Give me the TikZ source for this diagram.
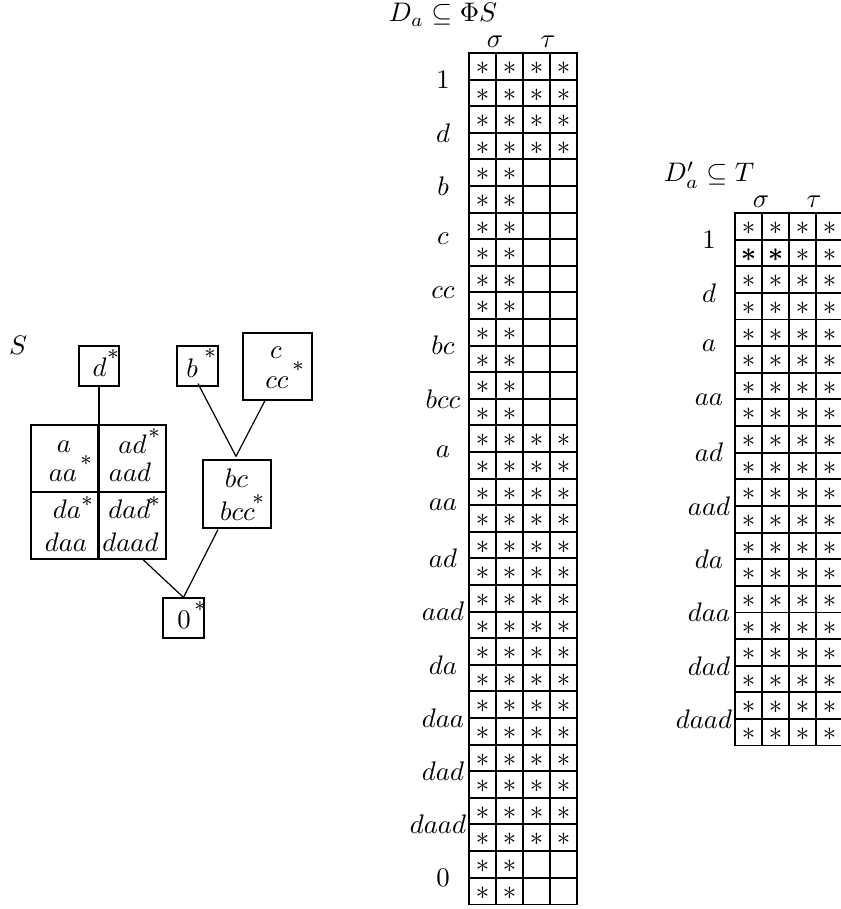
\documentclass[tikz,border=0pt]{standalone}
\usepackage{amsmath}
\usetikzlibrary{calc}
\tikzset{
  lab/.style={inner sep=0pt},
  baselab/.style={inner sep=0pt, anchor=base},
  cellstar/.style={inner sep=0pt},
  smallstar/.style={inner sep=0pt, font=\fontsize{8}{9}\selectfont},
  gridin/.style={line width=0.7pt},
  gridout/.style={line width=0.5pt},
  sbox/.style 2 args={draw, line width=0.45pt, inner sep=0pt, minimum width=#1*0.373pt, minimum height=#2*0.373pt},
  divider/.style={line width=0.8pt},
  conn/.style={line width=0.45pt},
}
\begin{document}
\begin{tikzpicture}[x=0.373pt,y=-0.373pt]
\useasboundingbox (0,0) rectangle (841,909);

% ---------------- left diagram S ----------------
\node[lab] (S) at (18,345) {$S$};

\node[sbox={40}{40}] (dbox) at (99,366) {};
\node[baselab] (dtxt) at (99.5,376.5) {$d$};
\node[smallstar] (dst) at (113,355) {$*$};

\node[sbox={41}{40}] (bbox) at (197.5,366) {};
\node[baselab] (btxt) at (192,377) {$b$};
\node[smallstar] (bst) at (210,354) {$*$};

\node[sbox={69}{67}] (cbox) at (277.5,366.5) {};
\node[baselab] (ctxt) at (276,358) {$c$};
\node[baselab] (cctxt) at (277,388) {$cc$};
\node[smallstar] (cst) at (298,367) {$*$};

\node[sbox={135}{134}] (big) at (98.5,492) {};
\draw[divider] (big.north) -- (big.south);
\draw[divider] (big.west) -- (big.east);
\node[baselab] (atxt) at (64,452) {$a$};
\node[baselab] (aatxt) at (63,481) {$aa$};
\node[smallstar] (aast) at (86,461) {$*$};
\node[baselab] (adtxt) at (132.5,453) {$ad$};
\node[baselab] (aadtxt) at (130,481) {$aad$};
\node[smallstar] (adst) at (154,434) {$*$};
\node[baselab] (datxt) at (67,518) {$da$};
\node[baselab] (daatxt) at (66,551) {$daa$};
\node[smallstar] (dast) at (87,502) {$*$};
\node[baselab] (dadtxt) at (129.5,518) {$dad$};
\node[baselab] (daadtxt) at (130.5,551) {$daad$};
\node[smallstar] (dadst) at (154,502) {$*$};

\node[sbox={68}{68}] (bcbox) at (237,494) {};
\node[baselab] (bctxt) at (236.5,487) {$bc$};
\node[baselab] (bcctxt) at (237.5,520) {$bcc$};
\node[smallstar] (bcst) at (258,500) {$*$};

\node[sbox={41}{40}] (zbox) at (183.5,618) {};
\node[baselab] (ztxt) at (184,628) {$0$};
\node[smallstar] (zst) at (200,607) {$*$};

\coordinate (bcapex) at ($(bcbox.north)+(-1,-3)$);
\draw[conn] (dbox.south) -- (dbox.south |- big.north);
\draw[conn] ($(bbox.south)+(0.5,-3)$) -- (bcapex);
\draw[conn] ($(cbox.south)+(-12.5,0)$) -- (bcapex);
\draw[conn] ($(big.south)+(44.5,0)$) -- (zbox.north);
\draw[conn] ($(bcbox.south)+(-19,1)$) -- (zbox.north);

% ---------------- middle table D_a ----------------
\def\mx{469}\def\my{53}\def\mh{26.6}
\node[baselab] (mtitle) at (443,22) {$D_a\subseteq\Phi S$};
\node[baselab] (msig) at (495,48) {$\sigma$};
\node[baselab] (mtau) at (548,48) {$\tau$};
\foreach \lab/\n/\lx [count=\k from 0] in {1/4/443,d/4/443,b/2/443,c/2/443,cc/2/443,bc/2/443,bcc/2/443,a/4/443,aa/4/443,ad/4/443,aad/4/443,da/4/443,daa/4/443,dad/4/443,daad/4/438,0/2/443}{
  \node[lab] (ml-\k) at (\lx,{\my+(2*\k+1)*\mh}) {$\lab$};
  \foreach \r in {0,1}{
    \foreach \c in {1,...,\n}{
      \node[cellstar] (ms-\k-\r-\c) at ({\mx+(\c-0.5)*27},{\my+(2*\k+\r+0.5)*\mh+2}) {$*$};
    }
  }
}
\foreach \i in {1,...,31} \draw[gridin] (\mx,{\my+\i*\mh}) -- +(108,0);
\foreach \j in {1,2,3} \draw[gridin] ({\mx+\j*27},\my) -- +(0,{32*\mh});
\draw[gridout] (\mx,\my) rectangle +(108,{32*\mh});

% ---------------- right table D'_a ----------------
\def\rx{735}\def\ry{213}\def\rh{26.63}
\node[baselab] (rtitle) at (709,182) {$D'_a\subseteq T$};
\node[baselab] (rsig) at (761,207) {$\sigma$};
\node[baselab] (rtau) at (814,207) {$\tau$};
\foreach \lab/\lx [count=\k from 0] in {1/709,d/709,a/709,aa/709,ad/709,aad/709,da/709,daa/709,dad/709,daad/704}{
  \node[lab] (rl-\k) at (\lx,{\ry+(2*\k+1)*\rh}) {$\lab$};
  \foreach \r in {0,1}{
    \foreach \c in {1,...,4}{
      \pgfmathtruncatemacro\isb{(\k==0)&&(\r==1)&&(\c<3)}
      \ifnum\isb=1 \def\st{\boldsymbol{*}}\else\def\st{*}\fi
      \node[cellstar] (rs-\k-\r-\c) at ({\rx+(\c-0.5)*27},{\ry+(2*\k+\r+0.5)*\rh+2}) {$\st$};
    }
  }
}
\foreach \i in {1,...,19} \draw[gridin] (\rx,{\ry+\i*\rh}) -- +(108,0);
\foreach \j in {1,2,3} \draw[gridin] ({\rx+\j*27},\ry) -- +(0,{20*\rh});
\draw[gridout] (\rx,\ry) rectangle +(108,{20*\rh});
\end{tikzpicture}
\end{document}
